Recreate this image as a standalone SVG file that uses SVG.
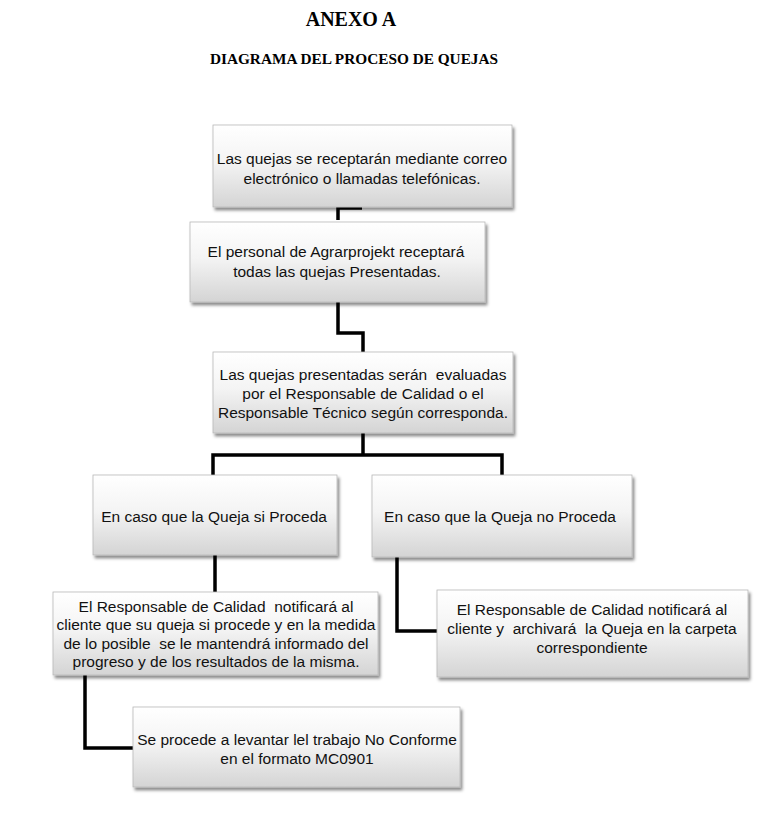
<svg xmlns="http://www.w3.org/2000/svg" width="767" height="816" viewBox="0 0 767 816">
<defs>
<linearGradient id="g" x1="0" y1="0" x2="0" y2="1">
<stop offset="0" stop-color="#ffffff"/>
<stop offset="0.45" stop-color="#f4f4f4"/>
<stop offset="1" stop-color="#d4d4d4"/>
</linearGradient>
<filter id="sh" x="-10%" y="-10%" width="125%" height="130%">
<feDropShadow dx="2" dy="3" stdDeviation="1.8" flood-color="#000" flood-opacity="0.45"/>
</filter>
</defs>
<style>
.box{fill:url(#g);stroke:#b8b8b8;stroke-width:0.8;filter:url(#sh)}
.t{font-family:"Liberation Sans",Arial,sans-serif;font-size:15.5px;fill:#111;text-anchor:middle;white-space:pre}
.h{font-family:"Liberation Serif","Times New Roman",serif;font-weight:bold;fill:#000;text-anchor:middle}
.c{fill:none;stroke:#000;stroke-width:3.5}
</style>
<rect width="767" height="816" fill="#fff"/>
<g id="title">
<text class="h" x="351" y="26" font-size="20">ANEXO A</text>
<text class="h" x="354" y="64" font-size="15.3">DIAGRAMA DEL PROCESO DE QUEJAS</text>
</g>
<g id="connectors">
<path class="c" d="M362,208 H338 V220"/>
<path class="c" d="M338,302 V333 H363 V352"/>
<path class="c" d="M363,433 V455"/>
<path class="c" d="M213,475 V455 H502 V475"/>
<path class="c" d="M215,555 V592"/>
<path class="c" d="M397,557 V631 H437"/>
<path class="c" d="M85,675 V748 H133"/>
</g>
<g id="n1">
<rect class="box" x="213" y="125" width="299" height="82"/>
<text class="t" x="362" y="164">Las quejas se receptarán mediante correo</text>
<text class="t" x="362" y="184">electrónico o llamadas telefónicas.</text>
</g>
<g id="n2">
<rect class="box" x="190" y="222" width="295" height="80"/>
<text class="t" x="336" y="257">El personal de Agrarprojekt receptará</text>
<text class="t" x="337" y="277">todas las quejas Presentadas.</text>
</g>
<g id="n3">
<rect class="box" x="213" y="352" width="300" height="81"/>
<text class="t" x="363" y="380">Las quejas presentadas serán  evaluadas</text>
<text class="t" x="363" y="399">por el Responsable de Calidad o el</text>
<text class="t" x="363" y="418">Responsable Técnico según corresponda.</text>
</g>
<g id="n4">
<rect class="box" x="93" y="475" width="244" height="80"/>
<text class="t" x="214" y="522">En caso que la Queja si Proceda</text>
</g>
<g id="n5">
<rect class="box" x="372" y="475" width="260" height="82"/>
<text class="t" x="500" y="522">En caso que la Queja no Proceda</text>
</g>
<g id="n6">
<rect class="box" x="53" y="592" width="325" height="83"/>
<text class="t" x="216" y="612">El Responsable de Calidad  notificará al</text>
<text class="t" x="216" y="630">cliente que su queja si procede y en la medida</text>
<text class="t" x="216" y="649">de lo posible  se le mantendrá informado del</text>
<text class="t" x="216" y="667">progreso y de los resultados de la misma.</text>
</g>
<g id="n7">
<rect class="box" x="437" y="590" width="311" height="87"/>
<text class="t" x="592" y="615">El Responsable de Calidad notificará al</text>
<text class="t" x="592" y="634">cliente y  archivará  la Queja en la carpeta</text>
<text class="t" x="592" y="653">correspondiente</text>
</g>
<g id="n8">
<rect class="box" x="133" y="707" width="327" height="80"/>
<text class="t" x="297" y="745">Se procede a levantar lel trabajo No Conforme</text>
<text class="t" x="297" y="764">en el formato MC0901</text>
</g>
</svg>
